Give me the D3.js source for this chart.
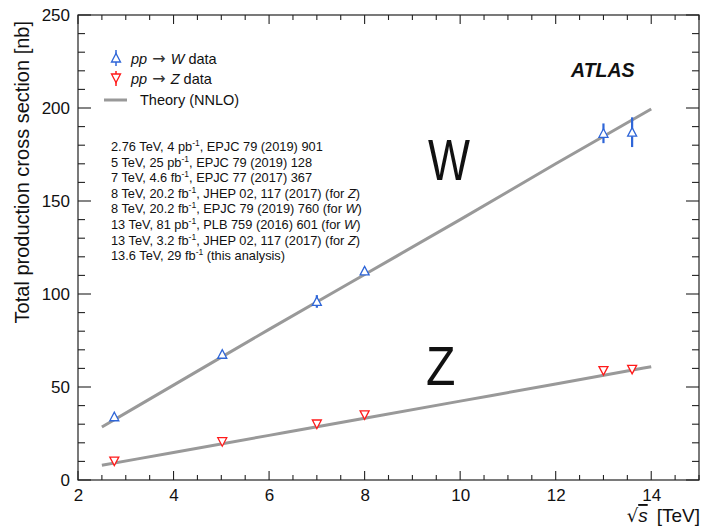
<!DOCTYPE html>
<html>
<head>
<meta charset="utf-8">
<script src="https://cdn.jsdelivr.net/npm/d3@7"></script>
<style>
  html, body { margin: 0; padding: 0; background: #fff; }
  svg { display: block; font-family: "Liberation Sans", Arial, Helvetica, sans-serif; }
</style>
</head>
<body>
<svg id="chart" width="701" height="526"></svg>
<script>
// Centre-of-mass energies (TeV) of the measurements
const energies = [2.76, 5.02, 7, 8, 13, 13.6];
// Total W and Z production cross sections (nb) with their uncertainties
const wXsec = [34.0, 67.6, 96.0, 112.4, 186.4, 187.0];
const wErr  = [1.2, 1.3, 3.4, 2.0, 5.3, 8.0];
const zXsec = [10.2, 20.6, 30.1, 35.0, 58.8, 59.5];
const zErr  = [0.5, 0.6, 0.9, 1.0, 1.7, 1.8];

// NNLO predictions sampled along sqrt(s)
const theoryEnergies = [2.5, 4, 6, 8, 10, 12, 14];
const theoryW = [28.5, 51.0, 81.0, 110.5, 140.0, 170.0, 199.5];
const theoryZ = [7.9, 14.8, 24.0, 33.2, 42.4, 51.6, 60.9];

// Axis ticks
const xTicks = [2, 4, 6, 8, 10, 12, 14];
const yTicks = [0, 50, 100, 150, 200, 250];

// Reference list printed in the plot
const references = [
  ["2.76 TeV, 4 pb", "-1", ", EPJC 79 (2019) 901", ""],
  ["5 TeV, 25 pb", "-1", ", EPJC 79 (2019) 128", ""],
  ["7 TeV, 4.6 fb", "-1", ", EPJC 77 (2017) 367", ""],
  ["8 TeV, 20.2 fb", "-1", ", JHEP 02, 117 (2017) (for ", "Z"],
  ["8 TeV, 20.2 fb", "-1", ", EPJC 79 (2019) 760 (for ", "W"],
  ["13 TeV, 81 pb", "-1", ", PLB 759 (2016) 601 (for ", "W"],
  ["13 TeV, 3.2 fb", "-1", ", JHEP 02, 117 (2017) (for ", "Z"],
  ["13.6 TeV, 29 fb", "-1", " (this analysis)", ""]
];

const W_COLOR = "#2f66d8";
const Z_COLOR = "#ff1a1a";
const THEORY_COLOR = "#999999";

const svg = d3.select("#chart");
const L = 78, R = 699, T = 15, B = 480;

const x = d3.scaleLinear().domain([2, 15]).range([L, R]);
const y = d3.scaleLinear().domain([0, 250]).range([B, T]);

const xMinor = d3.range(2, 15.001, 0.5);
const yMinor = d3.range(0, 250.001, 10);

// Frame
svg.append("rect")
  .attr("x", L).attr("y", T).attr("width", R - L).attr("height", B - T)
  .attr("fill", "none").attr("stroke", "#222").attr("stroke-width", 1.2);

// Inward tick marks on all four sides
const tickG = svg.append("g").attr("stroke", "#222").attr("stroke-width", 1.1);
function xTickLen(v) { return xTicks.includes(+v.toFixed(3)) ? 9 : 5; }
function yTickLen(v) { return yTicks.includes(Math.round(v)) ? 13 : 7; }
xMinor.forEach(v => {
  const len = xTickLen(v);
  tickG.append("line").attr("x1", x(v)).attr("x2", x(v)).attr("y1", B).attr("y2", B - len);
  tickG.append("line").attr("x1", x(v)).attr("x2", x(v)).attr("y1", T).attr("y2", T + len);
});
yMinor.forEach(v => {
  const len = yTickLen(v);
  tickG.append("line").attr("x1", L).attr("x2", L + len).attr("y1", y(v)).attr("y2", y(v));
  tickG.append("line").attr("x1", R).attr("x2", R - len).attr("y1", y(v)).attr("y2", y(v));
});

// Tick labels via d3 axes (tick lines hidden, frame drawn above)
const xAxis = d3.axisBottom(x).tickValues(xTicks).tickSize(0).tickPadding(9).tickFormat(d3.format("d"));
const gx = svg.append("g").attr("transform", `translate(0,${B})`).call(xAxis);
gx.select(".domain").remove();
gx.selectAll("text").attr("font-size", 17).attr("fill", "#111").attr("font-family", "Liberation Sans, Arial, sans-serif");

const yAxis = d3.axisLeft(y).tickValues(yTicks).tickSize(0).tickPadding(8).tickFormat(d3.format("d"));
const gy = svg.append("g").attr("transform", `translate(${L},0)`).call(yAxis);
gy.select(".domain").remove();
gy.selectAll("text").attr("font-size", 17).attr("fill", "#111").attr("font-family", "Liberation Sans, Arial, sans-serif");

// Axis titles
svg.append("text")
  .attr("transform", `translate(29,${T + 6}) rotate(-90)`)
  .attr("text-anchor", "end")
  .attr("font-size", 20).attr("fill", "#111")
  .text("Total production cross section [nb]");

const xt = svg.append("text")
  .attr("x", R + 1).attr("y", 522).attr("text-anchor", "end")
  .attr("font-size", 19).attr("fill", "#111");
xt.append("tspan").attr("font-family", "DejaVu Sans").attr("font-size", 18).text("\u221A");
xt.append("tspan").attr("font-style", "italic").attr("text-decoration", "overline").text("s");
xt.append("tspan").attr("dx", 9).text("[TeV]");

// Theory curves
const line = d3.line().x(d => x(d[0])).y(d => y(d[1])).curve(d3.curveMonotoneX);
[theoryW, theoryZ].forEach(vals => {
  svg.append("path")
    .datum(theoryEnergies.map((e, i) => [e, vals[i]]))
    .attr("d", line)
    .attr("fill", "none").attr("stroke", THEORY_COLOR).attr("stroke-width", 3);
});

// Markers
const up = (cx, cy) => `M${cx - 4.5},${cy + 4} L${cx + 4.5},${cy + 4} L${cx},${cy - 4.5} Z`;
const down = (cx, cy) => `M${cx - 4.5},${cy - 4} L${cx + 4.5},${cy - 4} L${cx},${cy + 4.5} Z`;

function drawSeries(vals, errs, color, shape) {
  const g = svg.append("g");
  energies.forEach((e, i) => {
    const cx = x(e), cy = y(vals[i]);
    g.append("line").attr("x1", cx).attr("x2", cx)
      .attr("y1", y(vals[i] + errs[i])).attr("y2", y(vals[i] - errs[i]))
      .attr("stroke", color).attr("stroke-width", 2.2);
    g.append("path").attr("d", shape(cx, cy))
      .attr("fill", "#fff").attr("stroke", color).attr("stroke-width", 1.3);
  });
}
drawSeries(wXsec, wErr, W_COLOR, up);
drawSeries(zXsec, zErr, Z_COLOR, down);

// Legend
const lg = svg.append("g");
lg.append("line").attr("x1", 116).attr("x2", 116).attr("y1", 50).attr("y2", 66)
  .attr("stroke", W_COLOR).attr("stroke-width", 1.5);
lg.append("path").attr("d", up(116, 58)).attr("fill", "#fff").attr("stroke", W_COLOR).attr("stroke-width", 1.3);
lg.append("line").attr("x1", 116).attr("x2", 116).attr("y1", 71).attr("y2", 86)
  .attr("stroke", Z_COLOR).attr("stroke-width", 1.5);
lg.append("path").attr("d", down(116, 78)).attr("fill", "#fff").attr("stroke", Z_COLOR).attr("stroke-width", 1.3);
lg.append("line").attr("x1", 104).attr("x2", 127).attr("y1", 100).attr("y2", 100)
  .attr("stroke", THEORY_COLOR).attr("stroke-width", 3);

function legendEntry(yy, boson) {
  const t = lg.append("text").attr("x", 131).attr("y", yy).attr("font-size", 14.5).attr("fill", "#111");
  t.append("tspan").attr("font-style", "italic").text("pp");
  t.append("tspan").attr("font-family", "DejaVu Sans").attr("font-size", 16).attr("fill", "#333").text(" \u2192 ");
  t.append("tspan").attr("font-style", "italic").text(boson);
  t.append("tspan").text(" data");
}
legendEntry(64, "W");
legendEntry(84, "Z");
lg.append("text").attr("x", 140).attr("y", 105).attr("font-size", 14.5).attr("fill", "#111").text("Theory (NNLO)");

// ATLAS label
svg.append("text").attr("x", 571).attr("y", 77)
  .attr("font-size", 19.5).attr("font-weight", "bold").attr("font-style", "italic").attr("fill", "#111")
  .text("ATLAS");

// Reference list
references.forEach((r, i) => {
  const t = svg.append("text").attr("x", 111).attr("y", 151 + i * 15.6)
    .attr("font-size", 12.8).attr("fill", "#111");
  t.append("tspan").text(r[0]);
  t.append("tspan").attr("font-size", 8.5).attr("dy", -5).text(r[1]);
  t.append("tspan").attr("dy", 5).text(r[2]);
  if (r[3]) t.append("tspan").attr("font-style", "italic").text(r[3]);
  if (r[3]) t.append("tspan").text(")");
});

// Boson labels next to the curves (narrow glyphs)
svg.append("text").attr("transform", "translate(428,180) scale(0.78,1)")
  .attr("font-size", 57).attr("fill", "#111").text("W");
svg.append("text").attr("transform", "translate(426,385) scale(0.86,1)")
  .attr("font-size", 56).attr("fill", "#111").text("Z");
</script>
</body>
</html>
